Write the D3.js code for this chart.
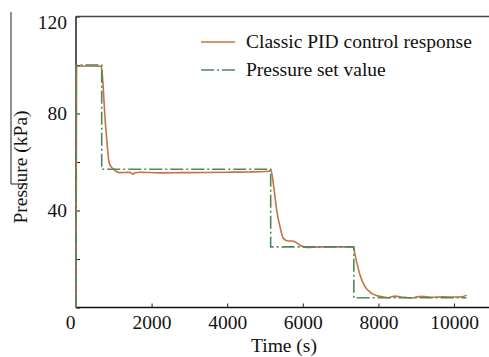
<!DOCTYPE html>
<html>
<head>
<meta charset="utf-8">
<script src="https://cdn.jsdelivr.net/npm/d3@7"></script>
<style>
  body { margin: 0; background: #fff; }
  text { font-family: "Liberation Serif", "DejaVu Serif", serif; }
</style>
</head>
<body>
<svg width="489" height="357"></svg>
<script>
let svg = d3.select("svg");
const width = 489;
const height = 357;
let margin = {top: 16.5, bottom: 49.5, left: 76, right: 35};
const fontSize = 19.5;

// data
const setTimes = [0, 0, 680, 680, 5150, 5150, 7350, 7350, 10330];
const setValues = [0, 100, 100, 57, 57, 25, 25, 4, 4];

const pidTimes = [0, 15, 300, 660, 690, 722, 760, 812, 873, 930, 979, 1060, 1164, 1300, 1429, 1470, 1508, 1560, 1700, 2200, 2800, 3400, 4000, 4600, 5100, 5159, 5220, 5310, 5397, 5485, 5617, 5720, 5794, 5926, 6103, 6500, 7000, 7336, 7380, 7425, 7513, 7646, 7823, 7998, 8130, 8262, 8350, 8439, 8600, 8750, 8880, 9000, 9145, 9400, 9700, 10000, 10200, 10335];
const pidValues = [0, 99.5, 99.6, 99.5, 97, 90.2, 80, 69.6, 60, 58, 57.3, 56.2, 55.6, 55.7, 55.8, 55.2, 55.0, 55.6, 55.8, 55.5, 55.6, 55.7, 55.8, 55.9, 56.2, 56.6, 51.1, 40.1, 33.3, 28.5, 27.4, 27.4, 27.1, 25.7, 24.8, 25, 25, 25, 22, 18.8, 13.4, 8.6, 5.8, 4.7, 4.3, 4.0, 4.4, 4.7, 4.3, 4.1, 3.9, 4.3, 4.6, 4.2, 4.4, 4.3, 4.4, 5.1];

const xTicks = [0, 2000, 4000, 6000, 8000, 10000];
const yTicks = [0, 20, 40, 60, 80, 100, 120];
const legendLabels = ["Classic PID control response", "Pressure set value"];

const orange = "#c47443";
const green = "#4f875a";

let xScale = d3.scaleLinear().domain([0, 10000]).range([76, 454]);
let yScale = d3.scaleLinear().domain([0, 120]).range([height - margin.bottom, margin.top]);

// axes
let xAxis = d3.axisBottom(xScale).tickValues(xTicks).tickSizeInner(-4).tickSizeOuter(0).tickPadding(8)
  .tickFormat(d3.format("d"));
let gx = svg.append("g")
  .attr("transform", `translate(0, ${yScale(0)})`)
  .call(xAxis);
gx.select(".domain").remove();
gx.selectAll("text").attr("font-size", fontSize).attr("fill", "#111")
  .attr("dx", (d) => d === 0 ? -6 : 0);
gx.selectAll("line").attr("stroke", "#222");

let yAxis = d3.axisLeft(yScale).tickValues(yTicks).tickSizeInner(-4).tickSizeOuter(0).tickPadding(9)
  .tickFormat((d) => (d > 0 && d % 40 === 0) ? d : "");
let gy = svg.append("g")
  .attr("transform", `translate(${xScale(0)}, 0)`)
  .call(yAxis);
gy.select(".domain").remove();
gy.selectAll("text").attr("font-size", fontSize).attr("fill", "#111")
  .attr("dy", (d) => d === 120 ? "0.6em" : "0.32em");
gy.selectAll("line").attr("stroke", "#222");

// frame: left, bottom, top (no right side)
svg.append("line")
  .attr("x1", xScale(0)).attr("x2", width)
  .attr("y1", yScale(120)).attr("y2", yScale(120))
  .attr("stroke", "#444").attr("stroke-width", 1.6);
svg.append("line")
  .attr("x1", xScale(0)).attr("x2", width)
  .attr("y1", yScale(0)).attr("y2", yScale(0))
  .attr("stroke", "#111").attr("stroke-width", 1.4);
svg.append("line")
  .attr("x1", xScale(0)).attr("x2", xScale(0))
  .attr("y1", yScale(120)).attr("y2", yScale(0))
  .attr("stroke", "#111").attr("stroke-width", 1.4);

// series
let line = d3.line()
  .x((d) => xScale(d[0]))
  .y((d) => yScale(d[1]));

svg.append("path")
  .datum(pidTimes.map((t, i) => [t, pidValues[i]]))
  .attr("d", line.curve(d3.curveMonotoneX))
  .attr("fill", "none")
  .attr("stroke", orange)
  .attr("stroke-width", 1.6);

svg.append("path")
  .datum(setTimes.map((t, i) => [t, setValues[i]]))
  .attr("d", line.curve(d3.curveLinear))
  .attr("fill", "none")
  .attr("stroke", green)
  .attr("stroke-width", 1.6)
  .attr("stroke-dasharray", "13,3,2,3");

// axis titles
svg.append("text")
  .attr("x", 284).attr("y", 352)
  .attr("text-anchor", "middle")
  .attr("font-size", fontSize).attr("fill", "#111")
  .text("Time (s)");

svg.append("text")
  .attr("transform", "translate(27, 167) rotate(-90)")
  .attr("text-anchor", "middle")
  .attr("font-size", fontSize).attr("fill", "#111")
  .text("Pressure (kPa)");

// the stray bracket lines at the left edge of the scan
svg.append("path")
  .attr("d", "M11,12 V184 H28")
  .attr("fill", "none").attr("stroke", "#222").attr("stroke-width", 1);

// legend
let legend = svg.append("g");
legend.append("line")
  .attr("x1", 201).attr("x2", 235).attr("y1", 42).attr("y2", 42)
  .attr("stroke", orange).attr("stroke-width", 1.6);
legend.append("line")
  .attr("x1", 201).attr("x2", 235).attr("y1", 70).attr("y2", 70)
  .attr("stroke", green).attr("stroke-width", 1.6)
  .attr("stroke-dasharray", "13,3,2,3");
legend.selectAll("text.lab")
  .data(legendLabels)
  .enter().append("text")
  .attr("class", "lab")
  .attr("x", 246)
  .attr("y", (d, i) => 42 + i * 28)
  .attr("dy", "0.33em")
  .attr("font-size", fontSize).attr("fill", "#111")
  .text((d) => d);
</script>
</body>
</html>
